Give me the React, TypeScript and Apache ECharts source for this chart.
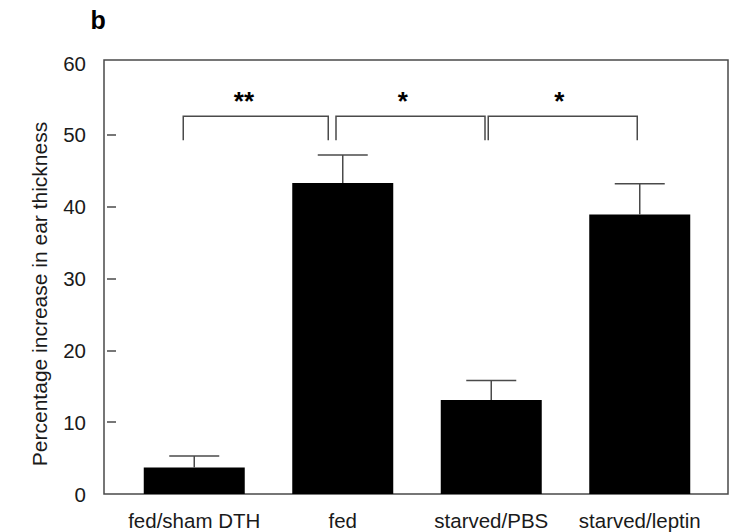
import React, { useEffect, useRef } from "react";
import * as echarts from "echarts";

// ---- data ----
const categories = ["fed/sham DTH", "fed", "starved/PBS", "starved/leptin"];
const means = [3.7, 43.3, 13.1, 38.9];
const errorTops = [5.3, 47.2, 15.8, 43.2];
const yMin = 0;
const yMax = 60;
const yInterval = 10;
const yTickValues = [10, 20, 30, 40, 50];
const bracketFrom = [0, 1, 2];
const bracketTo = [1, 2, 3];
const bracketLevel = [52.6, 52.6, 52.6];
const bracketLabels = ["**", "*", "*"];
const panelLabel = "b";
const yTitle = "Percentage increase in ear thickness";

// ---- styles ----
const FONT = "'Liberation Sans', Arial, Helvetica, sans-serif";
const TEXT = "#1a1a1a";
const LINE = "#4a4a4a";
const bracketInset = [
  [-11, -14.5],
  [-6.75, -6.25],
  [-3, -2.5],
];
const starShift = [-11.8, -7.8, -3.5];
const bracketDrop = 24;

export default function App() {
  const ref = useRef<HTMLDivElement>(null);

  useEffect(() => {
    if (!ref.current) return;
    const chart = echarts.init(ref.current, null, { renderer: "svg" });

    const errData = categories.map((_, i) => [i, means[i], errorTops[i]]);
    const brData = bracketFrom.map((f, i) => [f, bracketTo[i], bracketLevel[i]]);

    const option: any = {
      animation: false,
      backgroundColor: "#ffffff",
      grid: [
        // box
        { left: 104, right: 1, top: 60, height: 434, show: true, borderColor: LINE, borderWidth: 1.5, backgroundColor: "transparent" },
        // bars
        { left: 120, right: 15, top: 63, height: 431 },
        // y ticks / labels
        { left: 107, width: 10, top: 63, height: 431 },
      ],
      xAxis: [
        { gridIndex: 0, type: "value", show: false },
        {
          gridIndex: 1,
          type: "category",
          data: categories,
          axisLine: { show: false },
          axisTick: { show: false },
          axisLabel: { margin: 16, fontSize: 20.5, fontFamily: FONT, color: TEXT, interval: 0 },
        },
        { gridIndex: 2, type: "value", show: false },
      ],
      yAxis: [
        { gridIndex: 0, type: "value", show: false },
        { gridIndex: 1, type: "value", min: yMin, max: yMax, interval: yInterval, show: false },
        {
          gridIndex: 2,
          type: "value",
          min: yMin,
          max: yMax,
          interval: yInterval,
          axisLine: { show: false },
          axisTick: { show: true, inside: true, length: 9, customValues: yTickValues, lineStyle: { color: LINE, width: 1.5 } },
          splitLine: { show: false },
          axisLabel: { margin: 21, fontSize: 20.5, fontFamily: FONT, color: TEXT },
        },
      ],
      series: [
        {
          type: "bar",
          xAxisIndex: 1,
          yAxisIndex: 1,
          data: means,
          barWidth: 101,
          itemStyle: { color: "#000000" },
          z: 2,
        },
        {
          type: "custom",
          xAxisIndex: 1,
          yAxisIndex: 1,
          data: errData,
          encode: { x: 0, y: [1, 2] },
          z: 3,
          renderItem: (params: any, api: any) => {
            const base = api.coord([api.value(0), api.value(1)]);
            const top = api.coord([api.value(0), api.value(2)]);
            const half = 25;
            return {
              type: "group",
              children: [
                { type: "line", shape: { x1: top[0], y1: top[1], x2: base[0], y2: base[1] }, style: { stroke: LINE, lineWidth: 1.5 } },
                { type: "line", shape: { x1: top[0] - half, y1: top[1], x2: top[0] + half, y2: top[1] }, style: { stroke: LINE, lineWidth: 1.5 } },
              ],
            };
          },
        },
        {
          type: "custom",
          xAxisIndex: 1,
          yAxisIndex: 1,
          data: brData,
          encode: { x: [0, 1], y: 2 },
          z: 3,
          clip: false,
          renderItem: (params: any, api: any) => {
            const i = params.dataIndex;
            const p0 = api.coord([api.value(0), api.value(2)]);
            const p1 = api.coord([api.value(1), api.value(2)]);
            const x0 = p0[0] + bracketInset[i][0];
            const x1 = p1[0] + bracketInset[i][1];
            const y = p0[1];
            return {
              type: "group",
              children: [
                {
                  type: "polyline",
                  shape: { points: [[x0, y + bracketDrop], [x0, y], [x1, y], [x1, y + bracketDrop]] },
                  style: { stroke: LINE, lineWidth: 1.5, fill: "none" },
                },
                {
                  type: "text",
                  x: (x0 + x1) / 2 + starShift[i],
                  y: y - 15,
                  style: {
                    text: bracketLabels[i],
                    fill: "#000",
                    font: `bold 26px ${FONT}`,
                    textAlign: "center",
                    textVerticalAlign: "middle",
                  },
                },
              ],
            };
          },
        },
      ],
      graphic: [
        {
          type: "text",
          left: 90.5,
          top: 7,
          style: { text: panelLabel, fill: "#000", font: `bold 25px ${FONT}` },
        },
        {
          type: "text",
          x: 39,
          y: 294,
          rotation: Math.PI / 2,
          style: {
            text: yTitle,
            fill: TEXT,
            font: `21px ${FONT}`,
            textAlign: "center",
            textVerticalAlign: "middle",
          },
        },
      ],
    };

    chart.setOption(option);
    return () => chart.dispose();
  }, []);

  return <div ref={ref} style={{ position: "absolute", left: 0, top: 0, width: 729, height: 532 }} />;
}
